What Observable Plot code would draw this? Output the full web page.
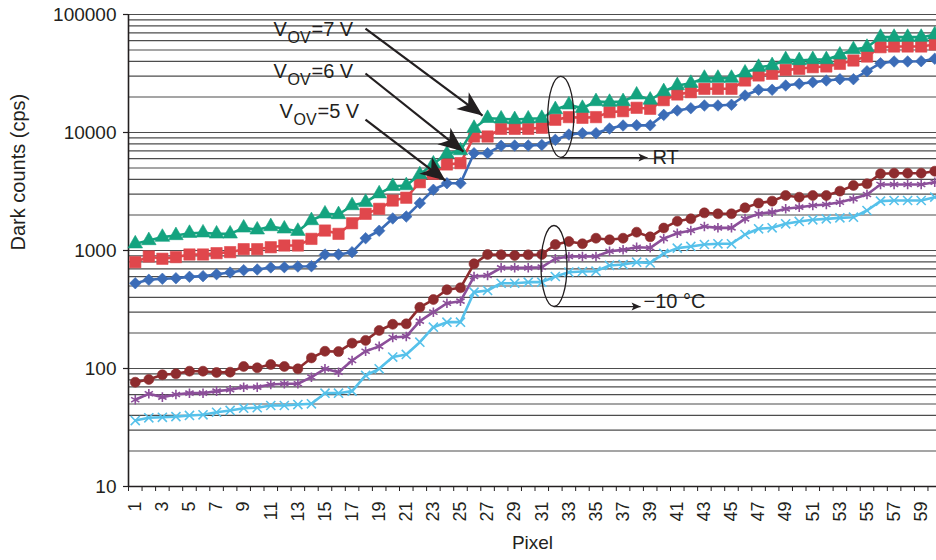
<!DOCTYPE html>
<html>
<head>
<meta charset="utf-8">
<script src="https://cdn.jsdelivr.net/npm/d3@7"></script>
<script src="https://cdn.jsdelivr.net/npm/@observablehq/plot@0.6"></script>
<style>
  html, body { margin: 0; padding: 0; background: #fff; }
  #chart svg { display: block; }
</style>
</head>
<body>
<div id="chart"></div>
<script>
// ---------- data ----------
const pixels = d3.range(1, 61);
const oddPixelTicks = [1,3,5,7,9,11,13,15,17,19,21,23,25,27,29,31,33,35,37,39,41,43,45,47,49,51,53,55,57,59];
const yTickValues = [10, 100, 1000, 10000, 100000];
const gridValues = [20,30,40,50,60,70,80,90,100,200,300,400,500,600,700,800,900,1000,
  2000,3000,4000,5000,6000,7000,8000,9000,10000,20000,30000,40000,50000,60000,70000,80000,90000,100000];

// Room temperature
const rtV5 = [528,565,576,582,598,606,630,651,681,690,718,722,731,736,925,925,968,1271,1470,1870,
  1940,2520,3270,3715,3715,6680,6680,7710,7750,7750,7850,8660,9610,9870,9870,10800,11460,11530,11500,14100,
  15350,16070,16940,16940,17170,20590,23010,23010,25020,25860,26680,27590,28310,28310,33060,38650,39970,39970,40200,42160];
const rtV6 = [796,889,851,879,925,925,949,968,1026,1026,1066,1102,1102,1255,1476,1384,1702,2046,2255,2650,
  2800,3790,4470,5360,5500,9250,9250,10740,10740,10740,10960,12820,13500,13320,13500,14870,15160,16190,15880,18800,
  21000,21980,23460,23460,23460,27590,30430,31420,33970,34640,35780,36260,38170,40740,44030,52840,53550,53550,53550,55700];
const rtV7 = [1141,1216,1298,1341,1402,1413,1384,1384,1556,1497,1597,1527,1458,1795,2046,2019,2405,2566,3030,3500,
  3553,4400,5430,6590,7030,10880,13200,13060,12890,13060,13200,15670,17170,16070,18320,18080,18320,20850,18860,22250,
  25020,26180,28890,28890,28890,32030,35780,36980,41570,40740,41570,41570,45460,50470,52840,64250,64250,64250,64250,67330];
// -10 °C
const coldV7 = [76.5,80.7,88.5,90.2,94.9,94.9,92.5,93.1,104,101.4,108,104,99.4,123,140,139,164,173,210,237,
  239,330,384,465,483,771,925,919,907,919,925,1124,1191,1140,1271,1233,1271,1430,1305,1550,
  1771,1855,2084,2046,2046,2300,2520,2620,2925,2830,2925,2925,3185,3555,3675,4470,4520,4520,4520,4700];
const coldV6 = [54.3,61.1,57.2,60.2,61.8,61.8,64.3,66,69.5,69.5,73.2,74.2,74.2,84.4,99.4,93.1,117,140,154,183,
  187,252,300,357,372,602,614,713,713,713,722,851,889,889,889,986,1013,1066,1054,1260,
  1402,1476,1597,1556,1556,1855,2046,2113,2255,2329,2405,2453,2566,2741,2985,3624,3624,3624,3624,3790];
const coldV5 = [36.2,38.2,38.6,39.1,40,40.5,42.6,44.1,46.1,46.5,48.6,48.6,49.5,50.2,61.8,61.8,64.3,87.3,99.4,125,
  131.6,167,224,247,247,444,458,528,528,539,539,602,655,664,668,747,761,796,785,945,
  1047,1082,1124,1140,1140,1367,1527,1556,1683,1762,1820,1855,1891,1915,2183,2620,2653,2653,2653,2832];

// annotations (in data coordinates)
const vovLabels = ["7", "6", "5"];
const vovTextX = [11.20, 11.20, 11.64];
const vovTextY = [66370, 29240, 13400];
const vovFromX = [17.99, 17.99, 17.99];
const vovFromY = [76000, 31620, 12880];
const vovToX = [26.63, 25.22, 23.89];
const vovToY = [13930, 6900, 3917];
const groupLabels = ["RT", "\u221210 \u00B0C"];
const ellipseX = [32.40, 31.90];
const ellipseY = [13590, 739];
const pointerFromX = [32.38, 31.90];
const pointerToX = [38.80, 38.29];
const pointerY = [6140, 335];
const groupTextX = [39.17, 38.51];
const groupTextY = [6140, 370];

// ---------- helpers ----------
const ink = "#231f20";
const rows = (vals) => vals.map((v, i) => ({pixel: pixels[i], value: v}));

function stealthMarker(len, half, notch) {
  return (color, context) => {
    const doc = (context && context.document) || document;
    const ns = "http://www.w3.org/2000/svg";
    const m = doc.createElementNS(ns, "marker");
    m.setAttribute("viewBox", `${-len} ${-half} ${len + 1} ${half * 2}`);
    m.setAttribute("markerWidth", len + 1);
    m.setAttribute("markerHeight", half * 2);
    m.setAttribute("markerUnits", "userSpaceOnUse");
    m.setAttribute("orient", "auto");
    m.setAttribute("refX", 0);
    m.setAttribute("refY", 0);
    m.setAttribute("overflow", "visible");
    const p = doc.createElementNS(ns, "path");
    p.setAttribute("d", `M0,0L${-len},${-half}L${-len + notch},0L${-len},${half}Z`);
    p.setAttribute("fill", color);
    p.setAttribute("stroke", "none");
    m.appendChild(p);
    return m;
  };
}

const ellipseSymbol = {
  draw(ctx) {
    const rx = 13, ry = 40.5, k = 0.5523, kx = rx * k, ky = ry * k;
    ctx.moveTo(rx, 0);
    ctx.bezierCurveTo(rx, ky, kx, ry, 0, ry);
    ctx.bezierCurveTo(-kx, ry, -rx, ky, -rx, 0);
    ctx.bezierCurveTo(-rx, -ky, -kx, -ry, 0, -ry);
    ctx.bezierCurveTo(kx, -ry, rx, -ky, rx, 0);
    ctx.closePath();
  }
};

const series = [
  {vals: coldV5, color: "#56c1ea", symbol: "times", r: 4.2, filled: false},
  {vals: coldV6, color: "#8c4f9a", symbol: "asterisk", r: 4.5, filled: false},
  {vals: coldV7, color: "#8e2c2e", symbol: "circle", r: 5, filled: true},
  {vals: rtV5, color: "#3b6cb7", symbol: "diamond2", r: 5.2, filled: true},
  {vals: rtV6, color: "#e0474c", symbol: "square", r: 6.4, filled: true},
  {vals: rtV7, color: "#14a37f", symbol: "triangle", r: 5.4, filled: true}
];

const seriesMarks = series.flatMap(s => [
  Plot.line(rows(s.vals), {x: "pixel", y: "value", stroke: s.color, strokeWidth: 2.6}),
  Plot.dot(rows(s.vals), {x: "pixel", y: "value", symbol: s.symbol, r: s.r,
    fill: s.filled ? s.color : "none", stroke: s.color, strokeWidth: s.filled ? 0.6 : 1.6})
]);

const idx3 = [0, 1, 2];
const idx2 = [0, 1];

const chart = Plot.plot({
  width: 936,
  height: 560,
  marginLeft: 128,
  marginRight: 0,
  marginTop: 14,
  marginBottom: 74,
  x: {type: "linear", domain: [0.5, 60.13]},
  y: {type: "log", domain: [10, 100000]},
  style: {fontFamily: "'Liberation Sans', Arial, Helvetica, sans-serif", color: ink, background: "#fff", overflow: "visible"},
  marks: [
    Plot.ruleY(gridValues, {stroke: "#4d4d4d", strokeWidth: 1.2}),
    Plot.axisY({ticks: yTickValues, tickFormat: d => String(d), tickSize: 5, tickPadding: 7,
      fontSize: 19, label: null, stroke: ink, strokeWidth: 1.2}),
    Plot.axisX({ticks: d3.range(0.5, 61, 1), tickSize: 5, tickFormat: () => "", label: null, stroke: ink}),
    Plot.axisX({ticks: oddPixelTicks, tickSize: 0, tickPadding: 15, tickRotate: -90, fontSize: 18, label: null}),
    Plot.ruleY([10], {stroke: ink, strokeWidth: 1.6}),
    Plot.ruleX([0.5], {stroke: ink, strokeWidth: 1.6}),
    Plot.text(["Dark counts (cps)"], {frameAnchor: "left", dx: -110, rotate: -90, fontSize: 20, fill: ink}),
    Plot.text(["Pixel"], {frameAnchor: "bottom", dy: 62, fontSize: 19, fill: ink}),
    ...seriesMarks,
    // annotation arrows for V_OV
    Plot.link(idx3, {x1: i => vovFromX[i], y1: i => vovFromY[i], x2: i => vovToX[i], y2: i => vovToY[i],
      stroke: ink, strokeWidth: 2.2, markerEnd: stealthMarker(25, 10.5, 7)}),
    Plot.text(idx3, {x: i => vovTextX[i], y: i => vovTextY[i], text: () => "V", textAnchor: "start",
      lineAnchor: "bottom", fontSize: 20, fill: ink}),
    Plot.text(idx3, {x: i => vovTextX[i], y: i => vovTextY[i], text: () => "OV", textAnchor: "start",
      lineAnchor: "bottom", dx: 14, dy: 7, fontSize: 16, fill: ink}),
    Plot.text(idx3, {x: i => vovTextX[i], y: i => vovTextY[i], text: i => "=" + vovLabels[i] + " V", textAnchor: "start",
      lineAnchor: "bottom", dx: 38, fontSize: 20, fill: ink}),
    // ellipses and pointers
    Plot.dot(idx2, {x: i => ellipseX[i], y: i => ellipseY[i], symbol: ellipseSymbol, r: 1,
      fill: "none", stroke: ink, strokeWidth: 1.3}),
    Plot.link(idx2, {x1: i => pointerFromX[i], y1: i => pointerY[i], x2: i => pointerToX[i], y2: i => pointerY[i],
      stroke: ink, strokeWidth: 1.2, markerEnd: stealthMarker(9, 4, 2)}),
    Plot.text(idx2, {x: i => groupTextX[i], y: i => groupTextY[i], text: i => groupLabels[i], textAnchor: "start",
      lineAnchor: "middle", fontSize: 20, fill: ink})
  ]
});

document.getElementById("chart").appendChild(chart);
</script>
</body>
</html>
